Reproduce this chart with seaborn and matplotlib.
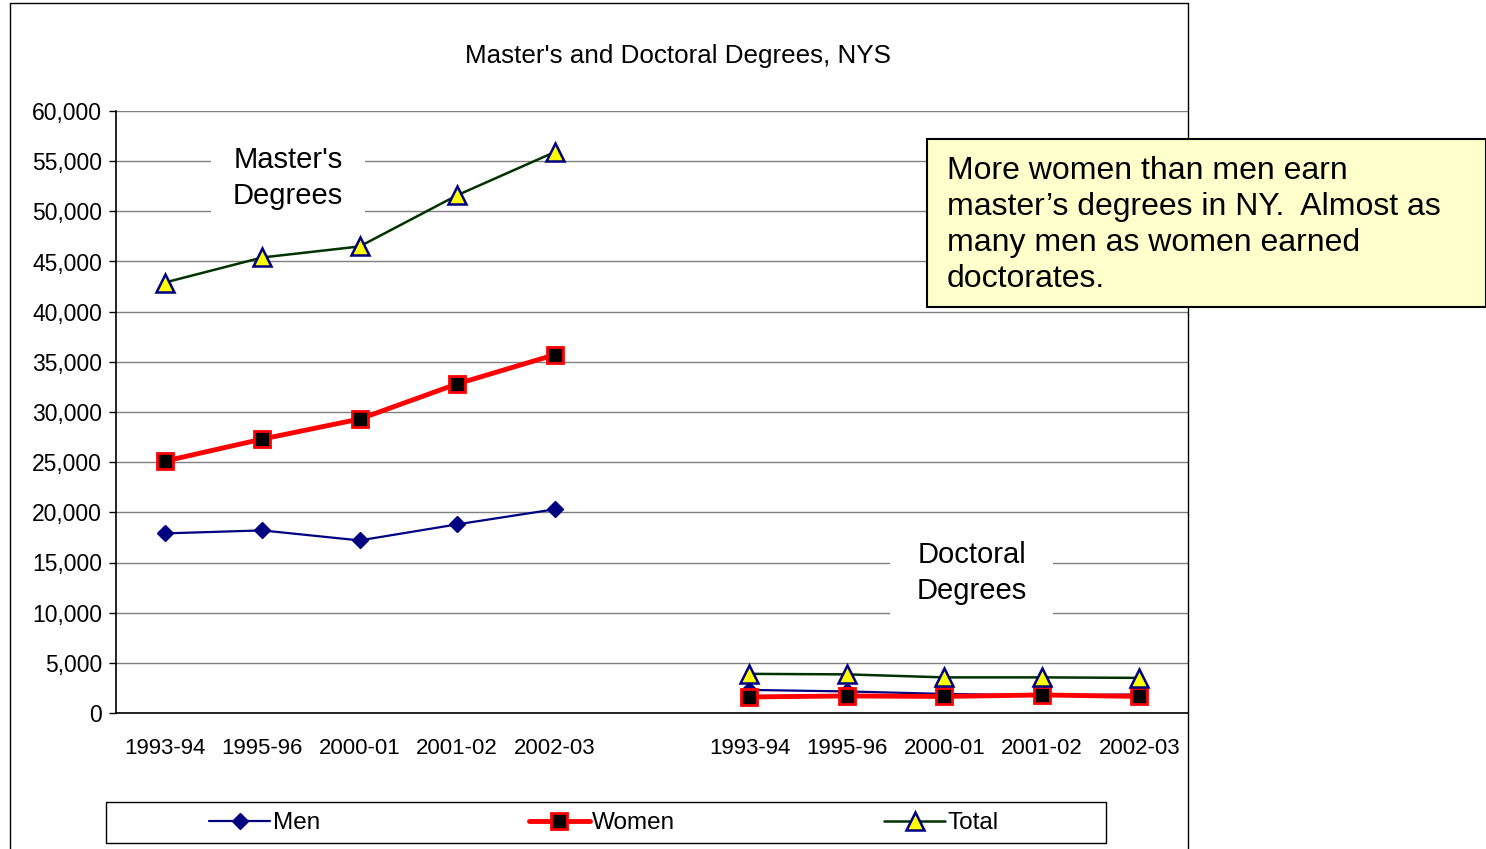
import numpy as np
import pandas as pd
import seaborn as sns
import matplotlib
matplotlib.use("Agg")
import matplotlib.pyplot as plt
from matplotlib.patches import Rectangle
from matplotlib.lines import Line2D
from matplotlib.ticker import FuncFormatter

# data
years = ["1993-94", "1995-96", "2000-01", "2001-02", "2002-03"]

masters_men = [17900, 18200, 17200, 18800, 20300]
masters_women = [25100, 27300, 29300, 32800, 35700]
masters_total = [42900, 45400, 46500, 51600, 55900]

doctoral_men = [2300, 2150, 1900, 1750, 1850]
doctoral_women = [1600, 1700, 1650, 1800, 1650]
doctoral_total = [3900, 3850, 3550, 3550, 3500]

series_names = ["Men", "Women", "Total"]
note = ("More women than men earn\n"
        "master\u2019s degrees in NY.  Almost as\n"
        "many men as women earned\n"
        "doctorates.")

sns.set_style("white")
plt.rcParams["font.family"] = ["Liberation Sans", "DejaVu Sans"]
plt.rcParams["text.color"] = "black"
plt.rcParams["xtick.color"] = "black"
plt.rcParams["ytick.color"] = "black"

# masters sit in slots 0-4, one empty slot, doctoral in 6-10
master_pos = list(range(5))
doc_pos = list(range(6, 11))

rows = []
for name, m_vals, d_vals in zip(series_names,
                                [masters_men, masters_women, masters_total],
                                [doctoral_men, doctoral_women, doctoral_total]):
    for p, v in zip(master_pos, m_vals):
        rows.append({"series": name, "group": "Master's", "pos": p, "value": v})
    for p, v in zip(doc_pos, d_vals):
        rows.append({"series": name, "group": "Doctoral", "pos": p, "value": v})
df = pd.DataFrame(rows)

styles = {
    "Men": dict(color="#000080", linewidth=1.6, marker="D", markersize=8,
                markerfacecolor="#000080", markeredgecolor="#000080", markeredgewidth=1),
    "Women": dict(color="#FF0000", linewidth=3.5, marker="s", markersize=12,
                  markerfacecolor="black", markeredgecolor="#FF0000", markeredgewidth=2),
    "Total": dict(color="#003300", linewidth=1.8, marker="^", markersize=13,
                  markerfacecolor="#FFFF00", markeredgecolor="#000080", markeredgewidth=1.8),
}

fig = plt.figure(figsize=(14.86, 8.49), dpi=100)
ax = fig.add_axes([116 / 1486, 136 / 849, 1072 / 1486, 602 / 849])

handles = []
for name in series_names:
    for grp in ["Master's", "Doctoral"]:
        sub = df[(df["series"] == name) & (df["group"] == grp)]
        sns.lineplot(data=sub, x="pos", y="value", ax=ax, zorder=3,
                     label=name if grp == "Master's" else "_nolegend_",
                     **styles[name])
    handles.append(ax.lines[-2])
if ax.get_legend() is not None:
    ax.get_legend().remove()

ax.set_xlim(-0.5, 10.5)
ax.set_ylim(0, 60000)
ax.set_xlabel("")
ax.set_ylabel("")

# x axis: labels at slot centres, ticks at slot boundaries
ax.set_xticks(list(range(11)))
ax.set_xticklabels(years + [""] + years, fontsize=16)
ax.set_xticks(np.arange(-0.5, 11, 1), minor=True)
ax.tick_params(axis="x", which="major", length=0, pad=18)
ax.tick_params(axis="x", which="minor", length=6, width=1, direction="out", color="black")

ax.set_yticks(np.arange(0, 60001, 5000))
ax.yaxis.set_major_formatter(FuncFormatter(lambda v, _: f"{int(v):,}"))
ax.tick_params(axis="y", length=5, width=1, direction="out", color="black",
               labelsize=16.5, pad=5, left=True)

ax.yaxis.grid(True, color="#808080", linewidth=1)
ax.xaxis.grid(False)
ax.set_axisbelow(True)
for s in ["top", "right"]:
    ax.spines[s].set_visible(False)
for s in ["left", "bottom"]:
    ax.spines[s].set_color("black")
    ax.spines[s].set_linewidth(1.2)

# group labels with white boxes over the gridlines
ax.text(1.265, 53300, "Master's\nDegrees", ha="center", va="center", fontsize=21,
        linespacing=1.36, zorder=2,
        bbox=dict(facecolor="white", edgecolor="none", pad=16))
ax.text(8.28, 13950, "Doctoral\nDegrees", ha="center", va="center", fontsize=21,
        linespacing=1.36, zorder=2,
        bbox=dict(facecolor="white", edgecolor="none", pad=19))

# title
fig.text(678 / 1486, 1 - 56 / 849, "Master's and Doctoral Degrees, NYS",
         ha="center", va="center", fontsize=18.7)

# outer chart frame
for xs, ys in [([10, 10], [3, 849]), ([10, 1188], [3, 3]), ([1188, 1188], [3, 849])]:
    fig.add_artist(Line2D([x / 1486 for x in xs], [1 - y / 849 for y in ys],
                          transform=fig.transFigure, color="black", linewidth=1))

# note box
fig.add_artist(Rectangle((927 / 1486, 1 - 307 / 849), (1486 - 927) / 1486, 168 / 849,
                         transform=fig.transFigure, facecolor="#FFFFCC",
                         edgecolor="black", linewidth=1.5, zorder=5))
fig.text(947 / 1486, 1 - 225 / 849, note, ha="left", va="center", fontsize=23,
         linespacing=1.27, zorder=6)

# legend box
fig.add_artist(Rectangle((106 / 1486, 1 - 843 / 849), 1000 / 1486, 41 / 849,
                         transform=fig.transFigure, facecolor="white",
                         edgecolor="black", linewidth=1, zorder=5))
fig.legend(handles, series_names, loc="center", ncol=3, frameon=False,
           bbox_to_anchor=(604 / 1486, 1 - 823 / 849), fontsize=17.5,
           handlelength=2.5, handletextpad=0.1, columnspacing=8.6)

fig.savefig("out.png", dpi=100)
